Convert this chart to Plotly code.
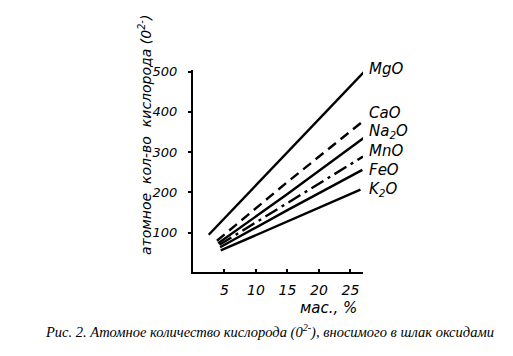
import plotly.graph_objects as go

# Data (x: мас., %; y: атомное кол-во кислорода)
names = ["MgO", "CaO", "Na2O", "MnO", "FeO", "K2O"]
label_texts = ["MgO", "CaO", "Na<sub>2</sub>O", "MnO", "FeO", "K<sub>2</sub>O"]
mgo_x = [2.5, 15, 27.2]
mgo_y = [95, 300, 500]
cao_x = [3.8, 15, 27.1]
cao_y = [80, 226, 378]
na2o_x = [4.0, 15, 27.1]
na2o_y = [74, 196, 335]
mno_x = [4.2, 15, 27.0]
mno_y = [70, 173, 289]
feo_x = [4.3, 15, 26.9]
feo_y = [64, 156, 256]
k2o_x = [4.4, 15, 26.6]
k2o_y = [56, 129, 207]
x_ticks = [5, 10, 15, 20, 25]
y_ticks = [100, 200, 300, 400, 500]

series = [
    (mgo_x, mgo_y, "solid"),
    (cao_x, cao_y, "10px,6px"),
    (na2o_x, na2o_y, "solid"),
    (mno_x, mno_y, "14px,5px,3px,5px"),
    (feo_x, feo_y, "solid"),
    (k2o_x, k2o_y, "solid"),
]

W, H = 513, 356
L, R, T, B = 185, 158, 62, 92
pw, ph = W - L - R, H - T - B

def px(x):
    return (x - L) / pw

def py(y):
    return (H - B - y) / ph

fig = go.Figure()
for (xs, ys, dash), nm in zip(series, names):
    fig.add_trace(go.Scatter(x=xs, y=ys, mode="lines", name=nm,
                             line=dict(color="black", width=2.4, dash=dash),
                             showlegend=False))

hand = "DejaVu Sans"
label_y = [61, 105, 123, 143, 162, 181]
ann = []
for txt, yy in zip(label_texts, label_y):
    ann.append(dict(text=txt, xref="paper", yref="paper", x=px(359), y=py(yy),
                    xanchor="left", yanchor="middle", showarrow=False,
                    font=dict(family=hand, size=15, color="black", style="italic")))
ann.append(dict(text="атомное  кол-во  кислорода (0<sup>2-</sup>)", xref="paper", yref="paper",
                x=px(137), y=py(127), textangle=-90, showarrow=False,
                xanchor="center", yanchor="middle",
                font=dict(family=hand, size=14, color="black", style="italic")))
ann.append(dict(text="мас., %", xref="paper", yref="paper", x=px(320), y=py(300),
                showarrow=False, xanchor="center", yanchor="middle",
                font=dict(family=hand, size=15, color="black", style="italic")))
ann.append(dict(text="Рис. 2. Атомное количество кислорода (0<sup>2-</sup>), вносимого в шлак оксидами",
                xref="paper", yref="paper", x=px(261), y=py(323), showarrow=False,
                xanchor="center", yanchor="middle",
                font=dict(family="Liberation Serif", size=14.5, color="black", style="italic")))

fig.update_layout(
    width=W, height=H,
    margin=dict(l=L, r=R, t=T, b=B, pad=0),
    paper_bgcolor="white", plot_bgcolor="white",
    annotations=ann,
    xaxis=dict(range=[0, 27], tickvals=x_ticks, ticktext=[str(v) for v in x_ticks],
               showgrid=False, zeroline=False, showline=True, linecolor="black", linewidth=2,
               ticks="inside", ticklen=3, tickcolor="black", tickwidth=1.5,
               tickfont=dict(family=hand, size=14, color="black", style="italic"),
               ticklabelstandoff=4),
    yaxis=dict(range=[2.5, 504], tickvals=y_ticks, ticktext=[str(v) for v in y_ticks],
               showgrid=False, zeroline=False, showline=True, linecolor="black", linewidth=2,
               ticks="outside", ticklen=3, tickcolor="black", tickwidth=1.5,
               tickfont=dict(family=hand, size=13, color="black", style="italic"),
               ticklabelstandoff=8),
)
fig.write_html("out.html")
